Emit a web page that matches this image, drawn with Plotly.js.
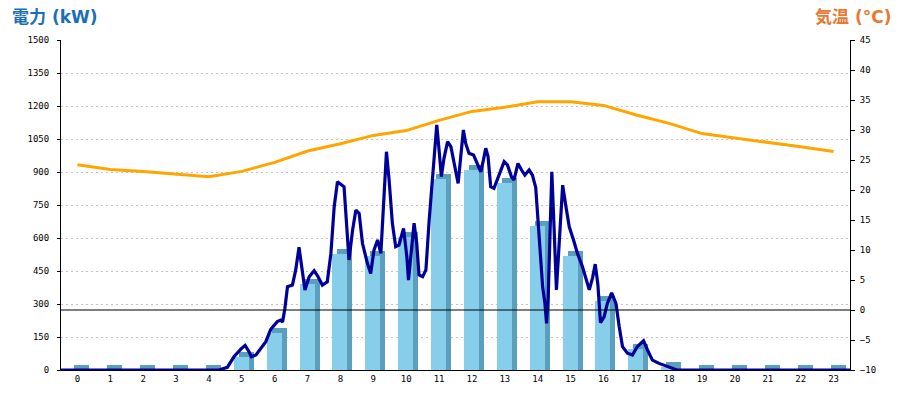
<!DOCTYPE html>
<html>
<head>
<meta charset="utf-8">
<script src="https://cdn.plot.ly/plotly-3.0.1.min.js"></script>
<style>
  html, body { margin: 0; padding: 0; background: #fff; }
  #chart { width: 900px; height: 400px; }
</style>
</head>
<body>
<div id="chart"></div>
<script>
// hourly power (kW) — bar per hour 0..23
const hours = [0,1,2,3,4,5,6,7,8,9,10,11,12,13,14,15,16,17,18,19,20,21,22,23];
const hourLabels = hours.map(String);
const powerHourly = [0,0,0,0,0,60,170,391,527,520,606,868,909,850,655,520,314,95,15,0,0,0,0,0];

// hourly temperature (°C)
const tempHourly = [24.2,23.4,23.1,22.7,22.2,23.1,24.6,26.5,27.7,29.1,29.9,31.6,
                    33.1,33.8,34.7,34.7,34.1,32.5,31.1,29.4,28.7,27.9,27.2,26.4];

// instantaneous power: time of day (h) and kW
const powerTime = [0,4.8,5.06,5.26,5.47,5.6,5.72,5.79,5.93,6.08,6.23,6.38,6.58,6.68,6.74,6.81,6.89,
  7.04,7.14,7.24,7.34,7.42,7.55,7.7,7.82,7.95,8.1,8.21,8.31,8.41,8.61,8.71,8.76,8.87,8.97,
  9.07,9.17,9.32,9.42,9.52,9.63,9.73,9.83,9.9,9.98,10.08,10.18,10.28,10.42,10.52,10.57,
  10.64,10.74,10.82,10.89,11.0,11.1,11.2,11.3,11.38,11.43,11.5,11.57,11.65,11.76,11.86,
  11.96,12.08,12.16,12.24,12.31,12.41,12.55,12.67,12.77,12.85,12.92,12.99,13.07,13.17,
  13.33,13.48,13.58,13.7,13.78,13.9,14.01,14.11,14.24,14.34,14.44,14.51,14.57,14.65,
  14.72,14.77,14.82,14.87,14.93,15.0,15.07,15.13,15.2,15.26,15.36,15.46,15.59,15.71,
  15.86,15.98,16.07,16.17,16.25,16.33,16.41,16.52,16.62,16.75,16.88,16.98,17.08,17.23,
  17.38,17.53,17.72,17.84,17.99,18.19,18.45,18.65,18.75,24];
const powerLive = [0,0,12,60,95,112,83,60,68,98,129,185,220,227,218,280,379,
  386,455,558,462,364,424,451,424,386,401,530,742,856,833,621,500,636,727,
  712,576,485,439,545,591,530,833,992,864,667,561,568,644,515,409,
  515,667,576,432,424,455,682,879,1061,1114,1000,879,962,1038,1015,
  939,848,970,1091,1030,985,977,939,901,955,1008,970,833,826,
  894,947,932,879,864,939,909,886,909,886,830,682,530,379,
  303,212,333,606,901,640,364,515,727,840,742,651,591,530,
  470,415,364,420,481,390,215,242,303,351,303,197,106,76,
  68,106,133,91,45,30,15,3,0,0];

const BAR_W = 0.456;      // front face width (category units)
const BAR_OFF = -0.243;
const DEPTH_X = 0.152;    // 3d depth, ~5px
const DEPTH_KW = 23;

const tickFont = { family: 'DejaVu Sans Mono, monospace', size: 9, color: '#000' };
const titleFamily = 'DejaVu Sans, Noto Sans CJK JP, sans-serif';

const traces = [
  {
    type: 'bar', x: hours, y: powerHourly.map(v => v + DEPTH_KW),
    width: BAR_W, offset: BAR_OFF + DEPTH_X,
    marker: { color: '#5a9fbd', line: { width: 0 } }, hoverinfo: 'skip', showlegend: false
  },
  {
    type: 'bar', x: hours, y: powerHourly, name: '電力',
    width: BAR_W, offset: BAR_OFF,
    marker: { color: '#87ceeb', line: { width: 0 } }, showlegend: false
  },
  {
    type: 'scatter', mode: 'lines', x: powerTime.map(t => t - 0.5), y: powerLive,
    line: { color: '#000099', width: 3.2 }, showlegend: false
  },
  {
    type: 'scatter', mode: 'lines', x: hours, y: tempHourly, yaxis: 'y2',
    line: { color: '#ffa500', width: 3 }, showlegend: false
  }
];

const layout = {
  width: 900, height: 400,
  margin: { l: 61, r: 50, t: 40, b: 30 },
  paper_bgcolor: '#fff', plot_bgcolor: '#fff',
  barmode: 'overlay', bargap: 0,
  xaxis: {
    range: [-0.5, 23.5], tickvals: hours, ticktext: hourLabels, tickfont: tickFont,
    showline: true, linecolor: '#000', linewidth: 1, showgrid: false, zeroline: false, ticks: ''
  },
  yaxis: {
    range: [0, 1500], tick0: 0, dtick: 150, tickfont: tickFont,
    showline: true, linecolor: '#000', linewidth: 1,
    ticks: 'outside', ticklen: 3, tickcolor: '#000', ticklabelstandoff: 6,
    showgrid: true, gridcolor: '#c4c4c4', griddash: '2px,3px', gridwidth: 1, zeroline: false
  },
  yaxis2: {
    overlaying: 'y', side: 'right', range: [-10, 45], tick0: -10, dtick: 5, tickfont: tickFont,
    showline: true, linecolor: '#000', linewidth: 1,
    ticks: 'outside', ticklen: 4, tickcolor: '#000', ticklabelstandoff: 3,
    showgrid: false, zeroline: false
  },
  shapes: [
    { type: 'line', xref: 'paper', x0: 0, x1: 1, yref: 'y2', y0: 0, y1: 0,
      line: { color: '#000', width: 1 }, layer: 'above' }
  ],
  annotations: [
    { text: '<b>電力 (kW)</b>', xref: 'paper', yref: 'paper', x: -0.065, y: 1.07,
      xanchor: 'left', yanchor: 'middle', showarrow: false,
      font: { family: titleFamily, size: 17, color: '#1a6fb8' } },
    { text: '<b>気温 (°C)</b>', xref: 'paper', yref: 'paper', x: 1.0545, y: 1.07,
      xanchor: 'right', yanchor: 'middle', showarrow: false,
      font: { family: titleFamily, size: 17, color: '#e8782e' } }
  ]
};

Plotly.newPlot('chart', traces, layout, { staticPlot: true });
</script>
</body>
</html>
